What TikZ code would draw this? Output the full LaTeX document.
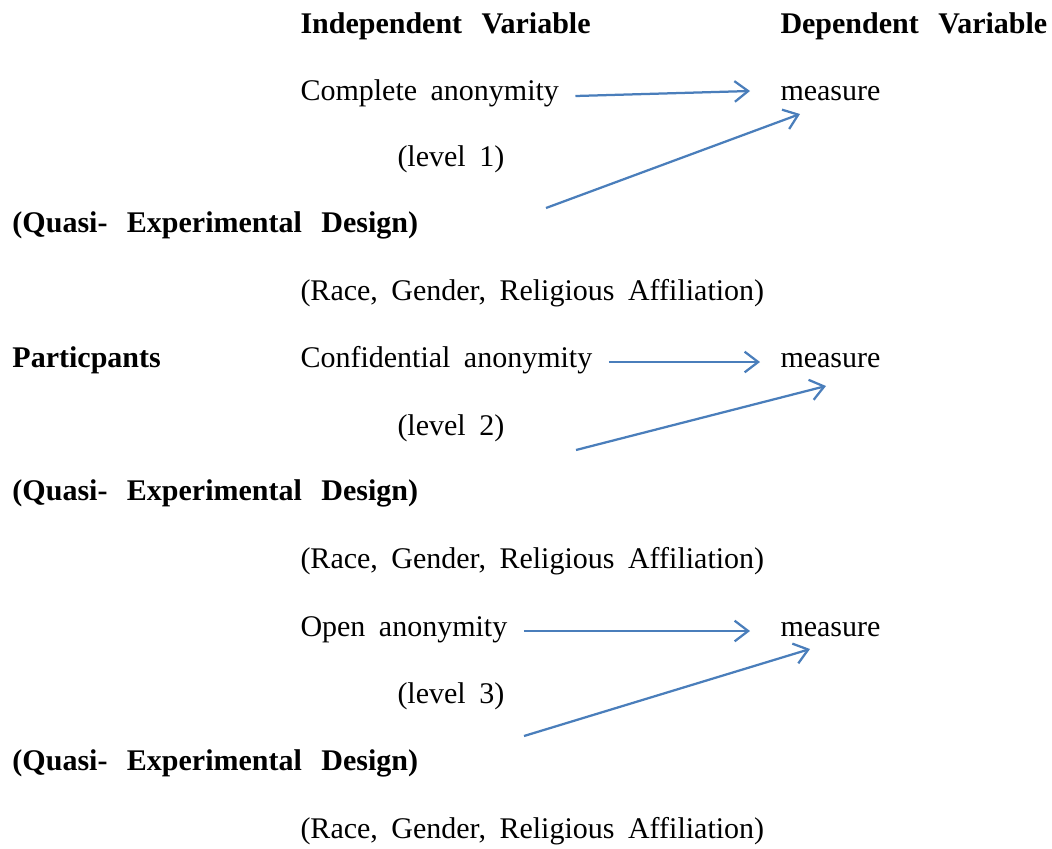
\documentclass[tikz,border=0pt]{standalone}
\usepackage{fontspec}
\setmainfont{Liberation Serif}
\usetikzlibrary{arrows.meta,calc}
\definecolor{dvblue}{HTML}{4A7EBB}
\newcommand{\dvfont}{\fontsize{12}{14}\selectfont\spaceskip=0.45em\relax}
\newcommand{\dvbold}{\fontsize{12}{14}\selectfont\bfseries\spaceskip=0.65em\relax}
\tikzset{
  txt/.style={anchor=base west, inner sep=0pt, font=\dvfont},
  hdr/.style={txt, font=\dvbold},
  arr/.style={-{Straight Barb[length=1.9mm,width=2.9mm]}, line width=0.9pt, color=dvblue},
}
\begin{document}
\begin{tikzpicture}[x=0.4pt, y=-0.4pt]
    \useasboundingbox (0,0) rectangle (1052,848);
    % headings
    \node[hdr] (indep) at (300,33) {Independent Variable};
    \node[hdr] (dep) at (780,33) {Dependent Variable};
    % level 1
    \node[txt] (anon1) at (300,100) {Complete anonymity};
    \node[txt] (meas1) at (780,100) {measure};
    \node[txt] (lev1) at (397,166) {(level 1)};
    \node[hdr] (quasi1) at (12,232) {(Quasi- Experimental Design)};
    \node[txt] (grp1) at (300,300) {(Race, Gender, Religious Affiliation)};
    % level 2
    \node[hdr] (part) at (12,367) {Particpants};
    \node[txt] (anon2) at (300,367) {Confidential anonymity};
    \node[txt] (meas2) at (780,367) {measure};
    \node[txt] (lev2) at (397,435) {(level 2)};
    \node[hdr] (quasi2) at (12,500) {(Quasi- Experimental Design)};
    \node[txt] (grp2) at (300,568) {(Race, Gender, Religious Affiliation)};
    % level 3
    \node[txt] (anon3) at (300,636) {Open anonymity};
    \node[txt] (meas3) at (780,636) {measure};
    \node[txt] (lev3) at (397,703) {(level 3)};
    \node[hdr] (quasi3) at (12,770) {(Quasi- Experimental Design)};
    \node[txt] (grp3) at (300,838) {(Race, Gender, Religious Affiliation)};
    % arrows
    \coordinate (tail1) at (546,208);
    \coordinate (tail2) at (576,450);
    \coordinate (tail3) at (524,736);
    \draw[arr] ($(anon1.base east)+(16,-4)$) -- ($(meas1.base west)+(-30,-9)$);
    \draw[arr] (tail1) -- ($(meas1.base west)+(20,14)$);
    \draw[arr] ($(anon2.base east)+(16,-5)$) -- ($(meas2.base west)+(-20,-5)$);
    \draw[arr] (tail2) -- ($(meas2.base west)+(46,19)$);
    \draw[arr] ($(anon3.base east)+(16,-5)$) -- ($(meas3.base west)+(-30,-5)$);
    \draw[arr] (tail3) -- ($(meas3.base west)+(30,13)$);
\end{tikzpicture}
\end{document}
